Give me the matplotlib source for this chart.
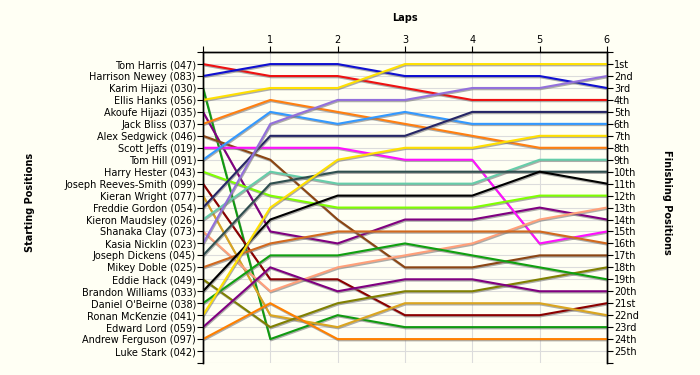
import numpy as np
import matplotlib
matplotlib.use("Agg")
import matplotlib.pyplot as plt
import matplotlib.patheffects as pe

# drivers in starting order, with their line colours
drivers = ["Tom Harris (047)", "Harrison Newey (083)", "Karim Hijazi (030)", "Ellis Hanks (056)",
           "Akoufe Hijazi (035)", "Jack Bliss (037)", "Alex Sedgwick (046)", "Scott Jeffs (019)",
           "Tom Hill (091)", "Harry Hester (043)", "Joseph Reeves-Smith (099)", "Kieran Wright (077)",
           "Freddie Gordon (054)", "Kieron Maudsley (026)", "Shanaka Clay (073)", "Kasia Nicklin (023)",
           "Joseph Dickens (045)", "Mikey Doble (025)", "Eddie Hack (049)", "Brandon Williams (033)",
           "Daniel O'Beirne (038)", "Ronan McKenzie (041)", "Edward Lord (059)", "Andrew Ferguson (097)",
           "Luke Stark (042)"]
colors = ["#ee1111", "#1010d0", "#109a10", "#ffe000", "#800080", "#ff7f10", "#8b4513", "#ff10ff",
          "#3399ff", "#80ff00", "#8b0000", "#daa520", "#262666", "#66cdaa", "#ffa07a", "#9370db",
          "#2f4f4f", "#d2691e", "#808000", "#000000", "#10a010", "#ffe000", "#800080", "#ff8000",
          "#999999"]

laps = [0, 1, 2, 3, 4, 5, 6]
# position at start and after each lap
positions = [
    [1, 2, 2, 3, 4, 4, 4],
    [2, 1, 1, 2, 2, 2, 3],
    [3, 24, 22, 23, 23, 23, 23],
    [4, 3, 3, 1, 1, 1, 1],
    [5, 15, 16, 14, 14, 13, 14],
    [6, 4, 5, 6, 7, 8, 8],
    [7, 9, 14, 18, 18, 17, 17],
    [8, 8, 8, 9, 9, 16, 15],
    [9, 5, 6, 5, 6, 6, 6],
    [10, 12, 13, 13, 13, 12, 12],
    [11, 19, 19, 22, 22, 22, 21],
    [12, 22, 23, 21, 21, 21, 22],
    [13, 7, 7, 7, 5, 5, 5],
    [14, 10, 11, 11, 11, 9, 9],
    [15, 20, 18, 17, 16, 14, 13],
    [16, 6, 4, 4, 3, 3, 2],
    [17, 11, 10, 10, 10, 10, 10],
    [18, 16, 15, 15, 15, 15, 16],
    [19, 23, 21, 20, 20, 19, 18],
    [20, 14, 12, 12, 12, 10, 11],
    [21, 17, 17, 16, 17, 18, 19],
    [22, 13, 9, 8, 8, 7, 7],
    [23, 18, 20, 19, 19, 20, 20],
    [24, 21, 24, 24, 24, 24, 24],
    [],  # Luke Stark - no laps
]
finish_labels = ["1st", "2nd", "3rd"] + ["%dth" % i for i in range(4, 21)] + \
                ["21st", "22nd", "23rd", "24th", "25th"]

bg = "#fffff4"
fig = plt.figure(figsize=(7, 3.75), dpi=100, facecolor=bg)
ax = fig.add_axes([0.29, 0.032, 0.577, 0.829], facecolor=bg)

shadow = [pe.SimpleLineShadow(offset=(0.5, -0.9), shadow_color="#777777", alpha=0.6), pe.Normal()]
for name, col, pos in zip(drivers, colors, positions):
    if not pos:
        continue
    ax.plot(laps[:len(pos)], pos, color=col, lw=1.5, path_effects=shadow, zorder=3)

n = len(drivers)
ax.set_xlim(0, 6)
ax.set_ylim(n + 1, 0)

ax.xaxis.tick_top()
ax.set_xticks(laps)
ax.set_xticklabels([""] + [str(l) for l in laps[1:]], fontsize=7)
ax.set_yticks(range(0, n + 2))
ax.set_yticklabels([""] + drivers + [""], fontsize=7)
ax.tick_params(axis="both", length=4, width=0.8, pad=1, colors="black")

ax2 = ax.twinx()
ax2.set_ylim(n + 1, 0)
ax2.set_yticks(range(0, n + 2))
ax2.set_yticklabels([""] + finish_labels + [""], fontsize=7)
ax2.tick_params(axis="y", length=4, width=0.8, pad=1)

ax.grid(True, color="#dcdcdc", lw=0.8, zorder=0)
ax.set_axisbelow(True)
for a in (ax, ax2):
    a.spines["bottom"].set_visible(False)
    for s in ("left", "right", "top"):
        a.spines[s].set_linewidth(1.0)

fig.text(0.578, 0.953, "Laps", ha="center", va="center", fontsize=7, fontweight="bold")
fig.text(0.043, 0.46, "Starting Positions", ha="center", va="center", rotation=90,
         fontsize=7, fontweight="bold")
fig.text(0.953, 0.46, "Finishing Positions", ha="center", va="center", rotation=270,
         fontsize=7, fontweight="bold")

fig.savefig("out.png", dpi=100, facecolor=bg)
